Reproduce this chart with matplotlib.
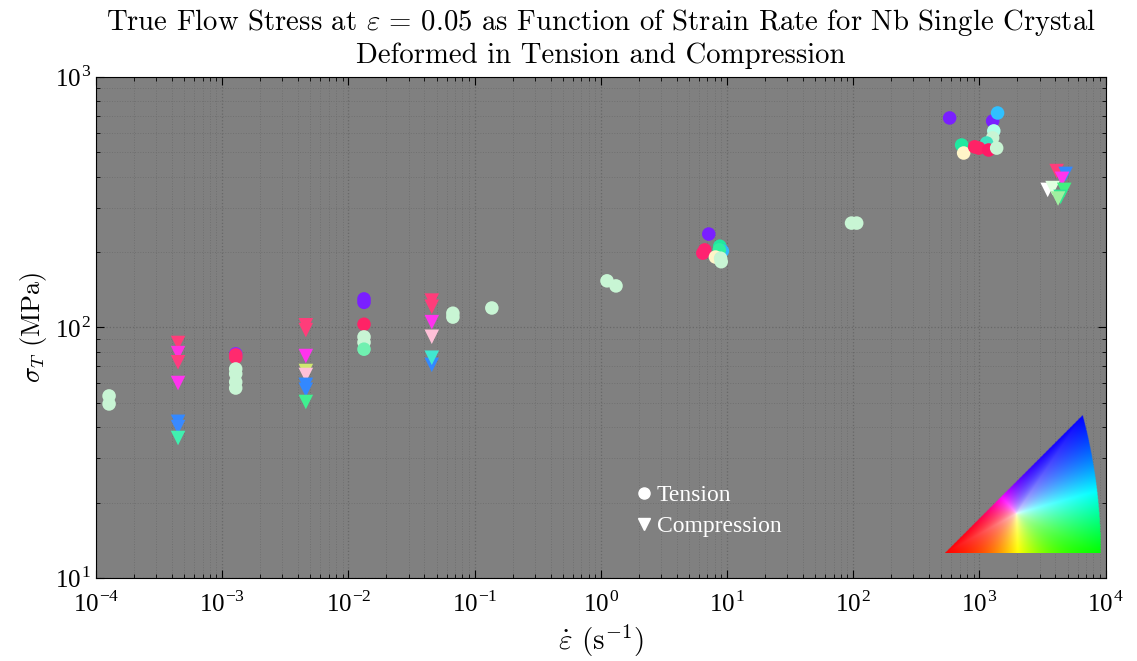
import numpy as np
import matplotlib
matplotlib.use("Agg")
import matplotlib.pyplot as plt
from matplotlib.lines import Line2D
from matplotlib.colors import hsv_to_rgb

plt.rcParams["font.family"] = "serif"
plt.rcParams["font.serif"] = ["cmr10", "DejaVu Serif"]
plt.rcParams["mathtext.fontset"] = "cm"
plt.rcParams["axes.formatter.use_mathtext"] = True
plt.rcParams["axes.unicode_minus"] = False

# tension tests (circles)
tension_rate = [1.27e-4, 1.27e-4,
                1.28e-3, 1.28e-3, 1.28e-3, 1.28e-3, 1.28e-3, 1.28e-3, 1.28e-3,
                0.0133, 0.0133, 0.0133, 0.0133, 0.0133, 0.0133,
                0.0673, 0.0673, 0.137, 1.12, 1.32,
                7.17, 6.66, 6.43, 8.77, 9.2, 8.7, 8.1, 8.9, 9.0,
                97, 106.6,
                581, 1273, 1393, 1300, 1273, 1140, 723, 750, 917, 990, 1183, 1370]
tension_stress = [53.3, 49.5,
                  78.5, 77.7, 75.9, 68.3, 65.3, 60.6, 57.3,
                  130, 126, 103, 91.7, 87.2, 81.9,
                  110, 114, 119.6, 153.5, 146.5,
                  236, 204, 198, 211, 202, 204, 191, 189, 183,
                  261, 261,
                  686, 667, 718, 609, 571, 545, 535, 497, 526, 520, 511, 520]
tension_color = ["#c8f5d4", "#c8f5d4",
                 "#8a2aff", "#ff2a6e", "#ff2a6e", "#c8f5d4", "#c8f5d4", "#c8f5d4", "#c8f5d4",
                 "#7a1fff", "#7a1fff", "#ff2266", "#c8f5d4", "#c8f5d4", "#70f0b0",
                 "#c8f5d4", "#c8f5d4", "#c8f5d4", "#c8f5d4", "#c8f5d4",
                 "#7a1fff", "#ff2270", "#ff2270", "#20e8a0", "#30b8ff", "#30f0a0", "#fff5c8", "#c8f5d4", "#c8f5d4",
                 "#c8f5d4", "#c8f5d4",
                 "#7a1fff", "#7a1fff", "#30c0ff", "#b0ffe8", "#c8f5d4", "#40e0c0", "#20e8a0", "#fff5c8",
                 "#ff2266", "#ff2266", "#ff1a66", "#c8f5d4"]

# compression tests (down triangles)
comp_rate = [4.47e-4] * 7 + [4.6e-3] * 8 + [0.0458] * 6 + \
            [4090, 4820, 4520, 3475, 3800, 4700, 4400, 4200]
comp_stress = [86.7, 79.0, 72.6, 60.0, 42.0, 40.0, 36.2,
               102, 97.6, 76.9, 67.0, 64.6, 59.0, 56.4, 50.4,
               128, 121, 105, 91.8, 70.9, 75.7,
               421, 410, 392, 354, 360, 354, 332, 327]
comp_color = ["#ff3d7a", "#ff33dd", "#ff3c80", "#ff33ee", "#3388ff", "#3a8aff", "#40f0b0",
              "#ff3d7a", "#ff3d7a", "#ff33ee", "#d0e870", "#ffc0d8", "#3388ff", "#3388ff", "#40f090",
              "#ff3d7a", "#ff3d7a", "#ff33ee", "#ffc0d8", "#3388ff", "#40e8d0",
              "#ff3d7a", "#3388ff", "#ff33ee", "#ffffff", "#e0ffe0", "#40f080", "#30e890", "#a0f0a0"]

x_ticks = [-4, -3, -2, -1, 0, 1, 2, 3, 4]
y_ticks = [1, 2, 3]

fig = plt.figure(figsize=(11.37, 6.61), dpi=100)
ax = fig.add_axes([0.0844, 0.1256, 0.888, 0.758])
ax.set_facecolor("#808080")
ax.set_xscale("log")
ax.set_yscale("log")
ax.set_xlim(1e-4, 1e4)
ax.set_ylim(10, 1000)

ax.grid(True, which="major", color="#686868", linestyle=":", linewidth=0.9)
ax.grid(True, which="minor", color="#707070", linestyle=":", linewidth=0.7)
ax.set_axisbelow(True)

ax.scatter(tension_rate, tension_stress, c=tension_color, marker="o", s=95,
           edgecolors="none", zorder=3)
ax.scatter(comp_rate, comp_stress, c=comp_color, marker="v", s=110,
           edgecolors="none", zorder=3)

ax.tick_params(which="both", direction="in", top=True, right=True)
ax.tick_params(which="major", length=6)
ax.tick_params(which="minor", length=3)
ax.tick_params(axis="x", pad=10)
ax.set_xticks([10.0 ** k for k in x_ticks])
ax.set_yticks([10.0 ** k for k in y_ticks])
ax.set_xticklabels([f"10$^{{\\mathregular{{{k}}}}}$" for k in x_ticks],
                   fontfamily="Liberation Serif", fontsize=18)
ax.set_yticklabels([f"10$^{{\\mathregular{{{k}}}}}$" for k in y_ticks],
                   fontfamily="Liberation Serif", fontsize=18)

ax.set_xlabel(r"$\dot{\varepsilon}$ (s$^{-1}$)", fontsize=21, labelpad=4)
ax.set_ylabel(r"$\sigma_T$ (MPa)", fontsize=19)
ax.set_title("True Flow Stress at $\\varepsilon$ = 0.05 as Function of Strain Rate for Nb Single Crystal\n"
             "Deformed in Tension and Compression", fontsize=20.7, pad=10)

handles = [Line2D([], [], marker="o", color="white", linestyle="none", markersize=8, label="Tension"),
           Line2D([], [], marker="v", color="white", linestyle="none", markersize=8, label="Compression")]
ax.legend(handles=handles, frameon=False, prop={"family": "Liberation Serif", "size": 17},
          labelcolor="white", loc="center left", bbox_to_anchor=(0.51, 0.134),
          handletextpad=0.05, handlelength=1.0, labelspacing=0.4)

# inverse pole figure colour key
X_max = np.sqrt(2) - 1
Y_max = (np.sqrt(3) - 1) / 2
n = 400
gx, gy = np.meshgrid(np.linspace(0, X_max, n), np.linspace(0, Y_max, n))
inside = (gy <= gx) & ((gx + 1) ** 2 + gy ** 2 <= 2)
c = np.array([0.19, 0.105])
dx = gx - c[0]
dy = gy - c[1]
r = np.hypot(dx, dy) + 1e-12
ux, uy = dx / r, dy / r
tmax = np.full_like(r, np.inf)
t1 = np.where(uy < 0, -c[1] / np.where(uy < 0, uy, 1), np.inf)
tmax = np.minimum(tmax, np.where(t1 > 0, t1, np.inf))
den = uy - ux
t2 = np.where(np.abs(den) > 1e-9, (c[0] - c[1]) / np.where(np.abs(den) > 1e-9, den, 1), np.inf)
tmax = np.minimum(tmax, np.where(t2 > 0, t2, np.inf))
px, py = c[0] + 1, c[1]
b = ux * px + uy * py
cc = px ** 2 + py ** 2 - 2
t3 = -b + np.sqrt(np.maximum(b ** 2 - cc, 0))
tmax = np.minimum(tmax, np.where(t3 > 0, t3, np.inf))
sat = np.clip(r / tmax, 0, 1) ** 0.5

ang = np.degrees(np.arctan2(dy, dx))
a_g = np.degrees(np.arctan2(0 - c[1], X_max - c[0]))
a_b = np.degrees(np.arctan2(Y_max - c[1], Y_max - c[0]))
a_r = np.degrees(np.arctan2(0 - c[1], 0 - c[0])) % 360
ang = np.where(ang < a_g, ang + 360, ang)
hue = np.interp(ang, [a_g, a_b, a_r, a_g + 360], [120, 240, 360, 480]) % 360 / 360
rgb = hsv_to_rgb(np.dstack([hue, sat, np.ones_like(sat)]))
rgba = np.dstack([rgb, inside.astype(float)])

kax = fig.add_axes([945 / 1137, (661 - 553) / 661, 156 / 1137, 138 / 661])
kax.imshow(rgba, origin="lower", extent=[0, X_max, 0, Y_max], aspect="auto",
           interpolation="bilinear")
kax.set_xlim(0, X_max)
kax.set_ylim(0, Y_max)
kax.axis("off")

fig.savefig("out.png", dpi=100)
